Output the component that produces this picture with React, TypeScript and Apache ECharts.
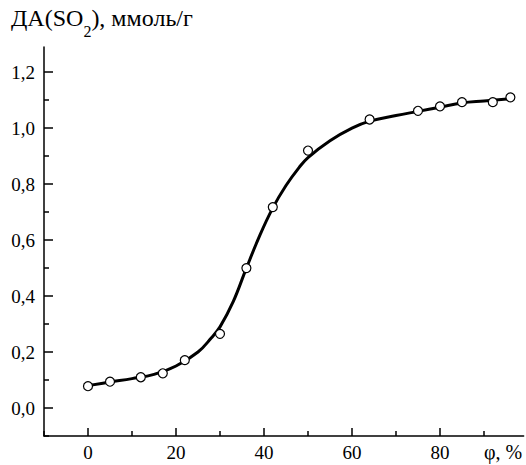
import React, { useEffect, useRef } from "react";
import * as echarts from "echarts";

const phiPoints = [0, 5, 12, 17, 22, 30, 36, 42, 50, 64, 75, 80, 85, 92, 96];
const daPoints = [0.078, 0.094, 0.11, 0.124, 0.171, 0.265, 0.5, 0.718, 0.92, 1.031, 1.062, 1.078, 1.093, 1.093, 1.11];

const phiCurve = [0, 5, 10, 15, 20, 25, 28, 30, 33, 36, 39, 42, 45, 48, 50, 55, 60, 64, 70, 75, 80, 85, 90, 96];
const daCurve = [0.08, 0.093, 0.105, 0.12, 0.15, 0.2, 0.25, 0.29, 0.38, 0.5, 0.615, 0.715, 0.795, 0.86, 0.895, 0.955, 1.0, 1.025, 1.045, 1.06, 1.075, 1.09, 1.097, 1.105];

const yMajor = [0, 0.2, 0.4, 0.6, 0.8, 1.0, 1.2];
const yMinor = [-0.1, 0.1, 0.3, 0.5, 0.7, 0.9, 1.1];
const xMajor = [0, 20, 40, 60, 80];
const xMinor = [-10, 10, 30, 50, 70, 90];

const FONT = "'Liberation Serif', 'DejaVu Serif', serif";

export default function App() {
  const ref = useRef<HTMLDivElement>(null);
  useEffect(() => {
    const chart = echarts.init(ref.current!, null, { renderer: "svg" });
    const axisLine = { show: true, onZero: false, lineStyle: { color: "#000", width: 1.5 } };
    const tickStyle = { color: "#000", width: 1.5 };
    chart.setOption({
      animation: false,
      backgroundColor: "#fff",
      grid: { left: 44, right: 526 - 44 - 4.4 * 109, top: 47, bottom: 29, containLabel: false },
      xAxis: [
        {
          type: "value",
          min: -10,
          max: 99,
          axisLine,
          splitLine: { show: false },
          axisTick: { show: true, inside: true, length: 8, customValues: xMajor, lineStyle: tickStyle },
          axisLabel: {
            show: true,
            customValues: xMajor,
            margin: 7,
            color: "#000",
            fontFamily: FONT,
            fontSize: 19,
          },
        },
        {
          type: "value",
          min: -10,
          max: 99,
          position: "bottom",
          offset: 0,
          axisLine: { show: false, onZero: false },
          splitLine: { show: false },
          axisTick: { show: true, inside: true, length: 5, customValues: xMinor, lineStyle: tickStyle },
          axisLabel: { show: false },
        },
      ],
      yAxis: [
        {
          type: "value",
          min: -0.1,
          max: 1.29,
          axisLine,
          splitLine: { show: false },
          axisTick: { show: true, inside: true, length: 9, customValues: yMajor, lineStyle: tickStyle },
          axisLabel: {
            show: true,
            customValues: yMajor,
            margin: 9,
            color: "#000",
            fontFamily: FONT,
            fontSize: 19,
            formatter: (v: number) => v.toFixed(1).replace(".", ","),
          },
        },
        {
          type: "value",
          min: -0.1,
          max: 1.29,
          position: "left",
          offset: 0,
          axisLine: { show: false, onZero: false },
          splitLine: { show: false },
          axisTick: { show: true, inside: true, length: 5, customValues: yMinor, lineStyle: tickStyle },
          axisLabel: { show: false },
        },
      ],
      graphic: [
        {
          type: "text",
          left: 11,
          top: 6,
          style: {
            text: "{a|ДА(SO}{b|2}{a|), ммоль/г}",
            rich: {
              a: { fontFamily: FONT, fontSize: 24, fill: "#000", lineHeight: 28, verticalAlign: "top" },
              b: { fontFamily: FONT, fontSize: 16, fill: "#000", lineHeight: 28, padding: [17, 0, 0, 0], verticalAlign: "top" },
            },
          },
        },
        {
          type: "text",
          left: 484,
          top: 442,
          style: { text: "φ, %", fontFamily: FONT, fontSize: 20, fill: "#000" },
        },
      ],
      series: [
        {
          type: "line",
          data: phiCurve.map((p, i) => [p, daCurve[i]]),
          smooth: 0.4,
          showSymbol: false,
          symbol: "none",
          lineStyle: { color: "#000", width: 3 },
          z: 2,
        },
        {
          type: "scatter",
          data: phiPoints.map((p, i) => [p, daPoints[i]]),
          symbol: "circle",
          symbolSize: 9,
          itemStyle: { color: "#fff", borderColor: "#000", borderWidth: 1.2, opacity: 1 },
          z: 3,
        },
      ],
    });
    return () => chart.dispose();
  }, []);
  return <div ref={ref} style={{ width: 526, height: 465, position: "absolute", left: 0, top: 0 }} />;
}
